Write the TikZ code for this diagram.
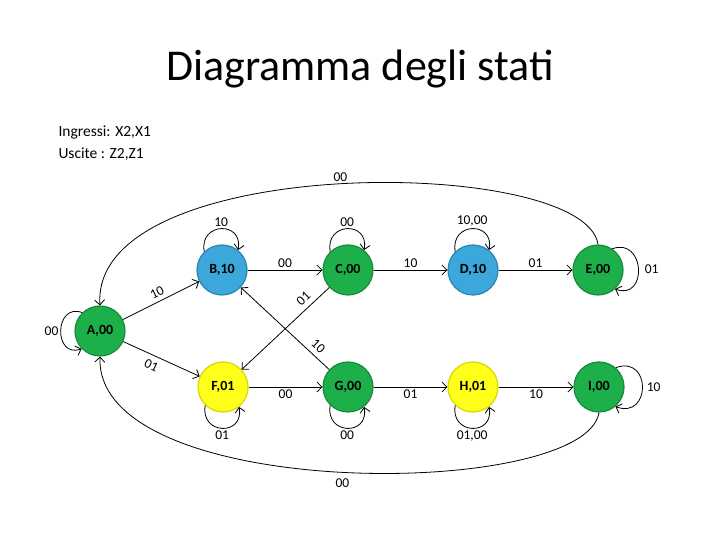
\documentclass[tikz,border=0pt]{standalone}
\usepackage{fontspec}
\setmainfont{Carlito}
\usetikzlibrary{arrows.meta}

\definecolor{verde}{HTML}{1DB04A}
\definecolor{verdeScuro}{HTML}{168A3A}
\definecolor{blu}{HTML}{3BA7DA}
\definecolor{bluScuro}{HTML}{2A83B3}
\definecolor{giallo}{HTML}{FFFF1A}
\definecolor{gialloScuro}{HTML}{D8D800}

\begin{document}
\begin{tikzpicture}[x=1pt,y=1pt,
    stato/.style={circle,minimum size=50pt,inner sep=0pt,line width=1.2pt,font=\fontsize{14}{14}\selectfont\bfseries},
    verdeS/.style={stato,fill=verde,draw=verdeScuro},
    bluS/.style={stato,fill=blu,draw=bluScuro},
    gialloS/.style={stato,fill=giallo,draw=gialloScuro},
    arr/.style={-{Straight Barb[length=5pt,width=10pt]},line width=0.8pt},
    etic/.style={font=\fontsize{13.5}{13.5}\selectfont,inner sep=2pt}
]
\useasboundingbox (0,0) rectangle (720,540);
\node[font=\fontsize{44}{44}\selectfont] (titolo) at (360,471) {Diagramma degli stati};
\node[anchor=west,align=left,font=\fontsize{15.5}{22}\selectfont] (legenda) at (55,397) {Ingressi: X2,X1\\Uscite : Z2,Z1};

% stati
\node[verdeS] (A) at (100,209) {A,00};
\node[bluS] (B) at (222,270) {B,10};
\node[verdeS] (C) at (348,270) {C,00};
\node[bluS] (D) at (473,270) {D,10};
\node[verdeS] (E) at (598,270) {E,00};
\node[gialloS] (F) at (223,153) {F,01};
\node[verdeS] (G) at (348,153) {G,00};
\node[gialloS] (H) at (473,153) {H,01};
\node[verdeS] (I) at (599,153) {I,00};

% anelli
\draw[arr] (A.134) .. controls +(160:30) and +(200:30) .. (A.224) node[etic,left,pos=.5] {00};
\draw[arr] (B.134) .. controls +(100:30) and +(80:30) .. (B.51) node[etic,above,pos=.5] {10};
\draw[arr] (C.134) .. controls +(100:30) and +(80:30) .. (C.51) node[etic,above,pos=.5] {00};
\draw[arr] (D.134) .. controls +(100:30) and +(80:30) .. (D.51) node[etic,above,pos=.5] {10,00};
\draw[arr] (E.56) .. controls +(20:35) and +(-20:35) .. (E.-48) node[etic,right,pos=.5,xshift=4pt] {01};
\draw[arr] (F.226) .. controls +(260:30) and +(280:30) .. (F.309) node[etic,below,pos=.5] {01};
\draw[arr] (G.226) .. controls +(260:30) and +(280:30) .. (G.309) node[etic,below,pos=.5] {00};
\draw[arr] (H.226) .. controls +(260:30) and +(280:30) .. (H.309) node[etic,below,pos=.5] {01,00};
\draw[arr] (I.49) .. controls +(20:38) and +(-20:38) .. (I.-50) node[etic,right,pos=.5,xshift=2pt] {10};

% transizioni
\draw[arr] (A) -- node[etic,sloped,above,inner sep=4pt] {10} (B);
\draw[arr] (A) -- node[etic,sloped,below,pos=.42,inner sep=5pt] {01} (F);
\draw[arr] (B) -- node[etic,above] {00} (C);
\draw[arr] (C) -- node[etic,above] {10} (D);
\draw[arr] (D) -- node[etic,above] {01} (E);
\draw[arr] (F) -- node[etic,below] {00} (G);
\draw[arr] (G) -- node[etic,below] {01} (H);
\draw[arr] (H) -- node[etic,below] {10} (I);
\draw[arr] (C) -- node[etic,sloped,above,pos=.22,inner sep=5pt] {01} (F);
\draw[arr] (G) -- node[etic,sloped,above,pos=.2,inner sep=5pt] {10} (B);
\draw[arr] (E.north) .. controls (585,385) and (90,388) .. (A.north) node[etic,above,pos=.5] {00};
\draw[arr] (I.south) .. controls (585,40) and (95,37) .. (A.south) node[etic,below,pos=.5,yshift=-4pt] {00};
\end{tikzpicture}
\end{document}
